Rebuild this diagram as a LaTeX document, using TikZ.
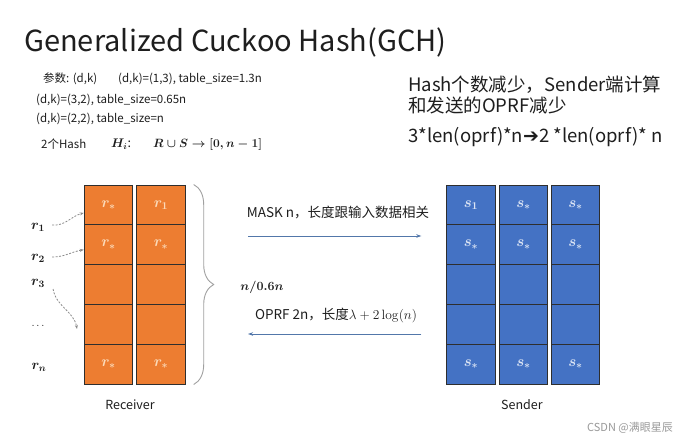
\RequirePackage{fix-cm}
\documentclass[tikz,border=0pt]{standalone}
\usepackage[no-math]{fontspec}
\setmainfont{Noto Sans CJK SC}
\newfontfamily\dvs{DejaVu Sans}
\usetikzlibrary{decorations.pathreplacing,arrows.meta,calc}
\definecolor{orangeC}{HTML}{ED7D31}
\definecolor{blueC}{HTML}{4472C4}
\definecolor{cellline}{HTML}{2E2E2E}
\definecolor{rtext}{HTML}{FBD9B8}
\definecolor{stext}{HTML}{DCE5F5}
\definecolor{flowC}{HTML}{5277AA}
\definecolor{dashC}{HTML}{8A8A8A}
\definecolor{braceC}{HTML}{A0A0A0}
\definecolor{txt}{HTML}{1E1E1E}
\tikzset{
  cellbase/.style={draw=cellline, line width=0.9pt, minimum width=48.5pt, minimum height=39.8pt, inner sep=0pt, font=\fontsize{15}{15}\selectfont\boldmath},
  rcell/.style={cellbase, fill=orangeC, text=rtext},
  scell/.style={cellbase, fill=blueC, text=stext},
  lbl/.style={anchor=west, inner sep=0pt, text=txt},
  rowlbl/.style={inner sep=0pt, font=\fontsize{14}{14}\selectfont\boldmath, text=txt},
  dasharrow/.style={draw=dashC, dashed, dash pattern=on 2pt off 1.5pt, line width=0.8pt, -{Stealth[length=4pt,width=3pt]}},
  flow/.style={draw=flowC, line width=1pt, -{Stealth[length=5pt,width=3.5pt]}},
  brc/.style={draw=braceC, line width=0.9pt, decorate, decoration={brace, amplitude=20pt, aspect=0.5}},
}
\begin{document}
\begin{tikzpicture}[x=1pt,y=-1pt]
\useasboundingbox[fill=white] (0,0) rectangle (690,442);

% title
\node[lbl, font=\fontsize{29}{34}\selectfont] (title) at (24,42) {Generalized Cuckoo Hash(GCH)};

% parameters
\node[lbl, font=\fontsize{11.5}{13}\selectfont] (p0) at (43,79) {参数: (d,k)};
\node[lbl, font=\fontsize{11.5}{13}\selectfont] (p1) at (118,79) {(d,k)=(1,3), table\_size=1.3n};
\node[lbl, font=\fontsize{11.5}{13}\selectfont] (p2) at (36,100) {(d,k)=(3,2), table\_size=0.65n};
\node[lbl, font=\fontsize{11.5}{13}\selectfont] (p3) at (36,119) {(d,k)=(2,2), table\_size=n};
\node[lbl, font=\fontsize{11.5}{13}\selectfont] (p4) at (41,144) {2个Hash};
\node[lbl, font=\fontsize{12.5}{13}\selectfont\boldmath] (p5) at (111,144) {$H_i$:};
\node[lbl, font=\fontsize{12}{13}\selectfont\boldmath] (p6) at (153,144) {$R\cup S\rightarrow[0,n-1]$};

% right notes
\node[lbl, font=\fontsize{18.5}{21}\selectfont] (n1) at (408,85) {Hash个数减少，Sender端计算};
\node[lbl, font=\fontsize{18.5}{21}\selectfont] (n2) at (408,105) {和发送的OPRF减少};
\node[lbl, font=\fontsize{18.5}{21}\selectfont] (n3) at (408,137) {3*len(oprf)*n{\dvs\fontsize{19}{20}\selectfont ➔}2 *len(oprf)* n};

% receiver table
\foreach \r/\y/\la/\lb in {1/204.9/{$r_*$}/{$r_1$}, 2/244.7/{$r_*$}/{$r_*$}, 3/284.5/{}/{}, 4/324.3/{}/{}, 5/364.1/{$r_*$}/{$r_*$}} {
  \node[rcell] (R1\r) at (108.5,\y) {\la};
  \node[rcell] (R2\r) at (161,\y) {\lb};
}
% sender table
\foreach \r/\y/\la/\lb/\lc in {1/204.9/{$s_1$}/{$s_*$}/{$s_*$}, 2/244.7/{$s_*$}/{$s_*$}/{$s_*$}, 3/284.5/{}/{}/{}, 4/324.3/{}/{}/{}, 5/364.1/{$s_*$}/{$s_*$}/{$s_*$}} {
  \node[scell] (S1\r) at (471,\y) {\la};
  \node[scell] (S2\r) at (523.5,\y) {\lb};
  \node[scell] (S3\r) at (575.5,\y) {\lc};
}

% row labels
\node[rowlbl] (r1) at (38,227) {$r_1$};
\node[rowlbl] (r2) at (38,258) {$r_2$};
\node[rowlbl] (r3) at (38,283) {$r_3$};
\node[rowlbl, font=\fontsize{11}{11}\selectfont] (rd) at (38,326) {$\dots$};
\node[rowlbl] (rn) at (39,367) {$r_n$};

\coordinate (t1) at ($(R11.west)+(0,8)$);
\coordinate (t2) at ($(R12.west)+(0,5)$);
\coordinate (t3) at (77,329);
\draw[dasharrow] ($(r1.east)+(7,-2)$) to[out=-5, in=195] (t1);
\draw[dasharrow] ($(r2.east)+(7,-1)$) to[out=0, in=190] (t2);
\draw[dasharrow] ($(r3.east)+(8,6)$) to[out=-80, in=100] (t3);

% brace
\draw[brc] ($(R21.north east)+(8,0)$) -- ($(R25.south east)+(8,0)$);
\node[rowlbl, font=\fontsize{12.5}{13}\selectfont\boldmath] (brl) at (262,287) {$n/0.6n$};

% messages
\coordinate (m1) at (248,236);
\coordinate (m2) at ($(S11.west)+(-25,0)$);
\coordinate (o1) at ($(S14.west)+(-25,9.7)$);
\coordinate (o2) at (248,334);
\draw[flow] (m1) -- (m1 -| m2);
\draw[flow] (o1) -- (o2 |- o1);
\node[inner sep=0pt, text=txt, font=\fontsize{13.5}{15}\selectfont] (mask) at (338,213) {MASK n，长度跟输入数据相关};
\node[inner sep=0pt, text=txt, font=\fontsize{13.5}{15}\selectfont] (oprf) at (336,315) {OPRF 2n，长度$\lambda+2\log(n)$};

% captions
\node[inner sep=0pt, text=txt, font=\fontsize{12.5}{14}\selectfont] (recv) at (130,405) {Receiver};
\node[inner sep=0pt, text=txt, font=\fontsize{12.5}{14}\selectfont] (send) at (522,405) {Sender};
\node[inner sep=0pt, text=black!40, font=\fontsize{11}{12}\selectfont] (wm) at (630,428) {CSDN @满眼星辰};
\end{tikzpicture}
\end{document}
